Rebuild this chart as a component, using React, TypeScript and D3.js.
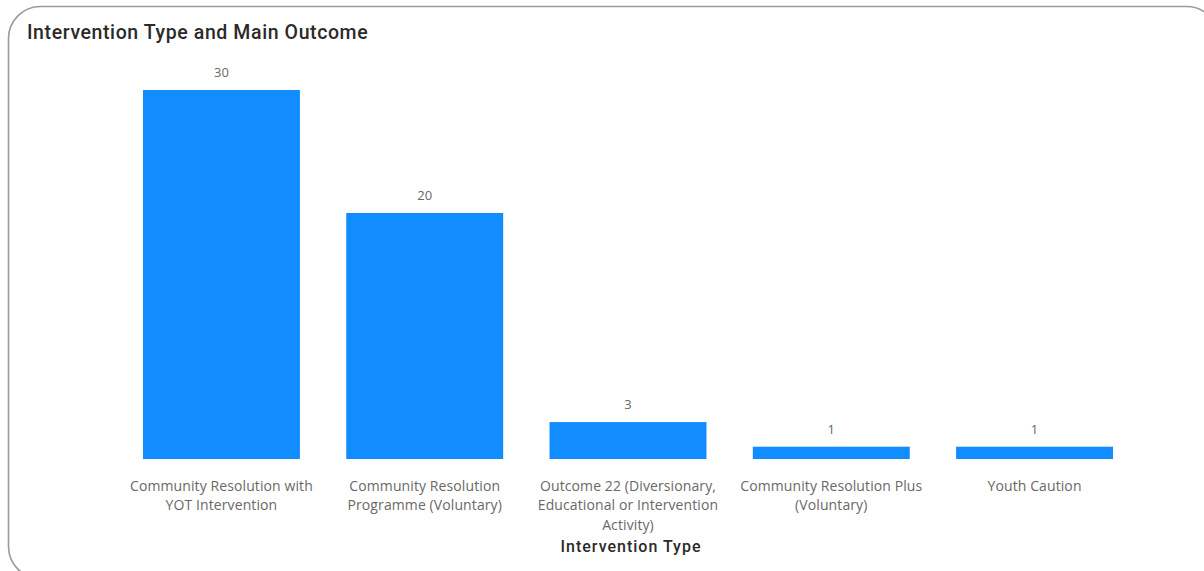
import React from "react";
import * as d3 from "d3";

const categories: string[] = [
  "Community Resolution with\nYOT Intervention",
  "Community Resolution\nProgramme (Voluntary)",
  "Outcome 22 (Diversionary,\nEducational or Intervention\nActivity)",
  "Community Resolution Plus\n(Voluntary)",
  "Youth Caution",
];
const values: number[] = [30, 20, 3, 1, 1];
const title = "Intervention Type and Main Outcome";
const xAxisTitle = "Intervention Type";

const W = 1204;
const H = 571;

export default function App() {
  const x = d3
    .scaleBand<string>()
    .domain(categories)
    .range([119.8, 1136.2])
    .paddingInner(0.228)
    .paddingOuter(0.114);
  const y = d3.scaleLinear().domain([0, 30]).range([459, 90]);

  return (
    <svg
      width={W}
      height={H}
      style={{ position: "absolute", left: 0, top: 0, background: "#fff" }}
    >
      <rect
        x={8.5}
        y={6.5}
        width={1210}
        height={572}
        rx={32}
        ry={32}
        fill="#fff"
        stroke="#9a9a9a"
        strokeWidth={1.6}
      />
      <text
        x={27}
        y={39}
        fontFamily="Roboto, 'DejaVu Sans', sans-serif"
        fontSize={19.5}
        fontWeight={500}
        letterSpacing={0.6}
        fill="#2b2a29"
      >
        {title}
      </text>
      {categories.map((c, i) => {
        const bx = x(c)!;
        const bw = x.bandwidth();
        const cx = bx + bw / 2;
        return (
          <g key={c}>
            <rect x={bx} y={y(values[i])} width={bw} height={y(0) - y(values[i])} fill="#118DFF" />
            <text
              x={cx}
              y={y(values[i]) - 13}
              textAnchor="middle"
              fontFamily="'Open Sans', sans-serif"
              fontSize={13}
              fill="#6a6866"
            >
              {values[i]}
            </text>
            <text
              textAnchor="middle"
              fontFamily="'Open Sans', sans-serif"
              fontSize={14}
              letterSpacing={0.1}
              fill="#6a6866"
            >
              {c.split("\n").map((line, j) => (
                <tspan key={j} x={cx} y={490.5 + j * 19.5}>
                  {line}
                </tspan>
              ))}
            </text>
          </g>
        );
      })}
      <text
        x={631}
        y={552}
        textAnchor="middle"
        fontFamily="Roboto, 'DejaVu Sans', sans-serif"
        fontSize={16}
        fontWeight={500}
        letterSpacing={1}
        fill="#2b2a29"
      >
        {xAxisTitle}
      </text>
    </svg>
  );
}
